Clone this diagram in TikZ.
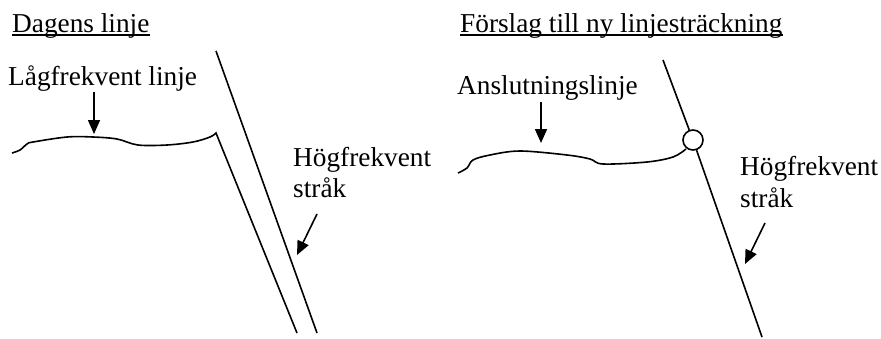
\documentclass[tikz,border=0pt]{standalone}
\usepackage{fontspec}
\setmainfont{Liberation Serif}
\usetikzlibrary{arrows.meta}
\begin{document}
\begin{tikzpicture}[x=1pt,y=-1pt,
  lbl/.style={inner sep=0pt,anchor=base west,font=\fontsize{27.3}{31}\selectfont},
  ln/.style={line width=1.6pt},
  ptr/.style={line width=1.6pt,-{Triangle[length=14pt,width=12pt]}}]
\useasboundingbox (0,0) rectangle (881,338);
% titles
\node[lbl] (t1) at (12,32) {Dagens linje};
\draw[line width=1.1pt] ([yshift=-3pt]t1.base west) -- ([yshift=-3pt]t1.base east);
\node[lbl] (t2) at (460,32) {Förslag till ny linjesträckning};
\draw[line width=1.1pt] ([yshift=-3pt]t2.base west) -- ([yshift=-3pt]t2.base east);
% left panel
\node[lbl] (lf) at (8,85) {Lågfrekvent linje};
\coordinate (lfs) at (94,92);
\coordinate (lft) at (94,134);
\draw[ptr] (lfs) -- (lft);
\coordinate (lc) at (216,133);
\coordinate (le) at (297,333);
\draw[ln,line join=miter] plot[smooth,tension=0.55] coordinates {(12,153) (20,150) (27,144) (33,142) (67,137) (93,137) (117,139) (138,145) (167,145) (193,142) (210,137) (216,133)} -- (le);
\coordinate (hs) at (216,51);
\coordinate (he) at (317,333);
\draw[ln] (hs) -- (he);
\node[lbl] (hf1) at (293,166) {Högfrekvent};
\node[lbl] (hf1b) at (293,197) {stråk};
\coordinate (a1s) at (317,214);
\coordinate (a1t) at (297,255);
\draw[ptr] (a1s) -- (a1t);
% right panel
\node[lbl] (an) at (457,94) {Anslutningslinje};
\coordinate (ans) at (541,102);
\coordinate (ant) at (541,143);
\draw[ptr] (ans) -- (ant);
\node[circle,draw,line width=1.6pt,minimum size=20pt,inner sep=0pt] (j) at (693,140) {};
\coordinate (rs) at (663,60);
\coordinate (re) at (762,337);
\draw[ln] (rs) -- (j);
\draw[ln] (j) -- (re);
\draw[ln] plot[smooth,tension=0.55] coordinates {(458,173) (467,168) (473,160) (490,155) (520,151) (567,155) (590,159) (603,164) (647,162) (673,157) (686,149)};
\node[lbl] (hf2) at (740,175) {Högfrekvent};
\node[lbl] (hf2b) at (740,207) {stråk};
\coordinate (a2s) at (765,223);
\coordinate (a2t) at (745,264);
\draw[ptr] (a2s) -- (a2t);
\end{tikzpicture}
\end{document}
